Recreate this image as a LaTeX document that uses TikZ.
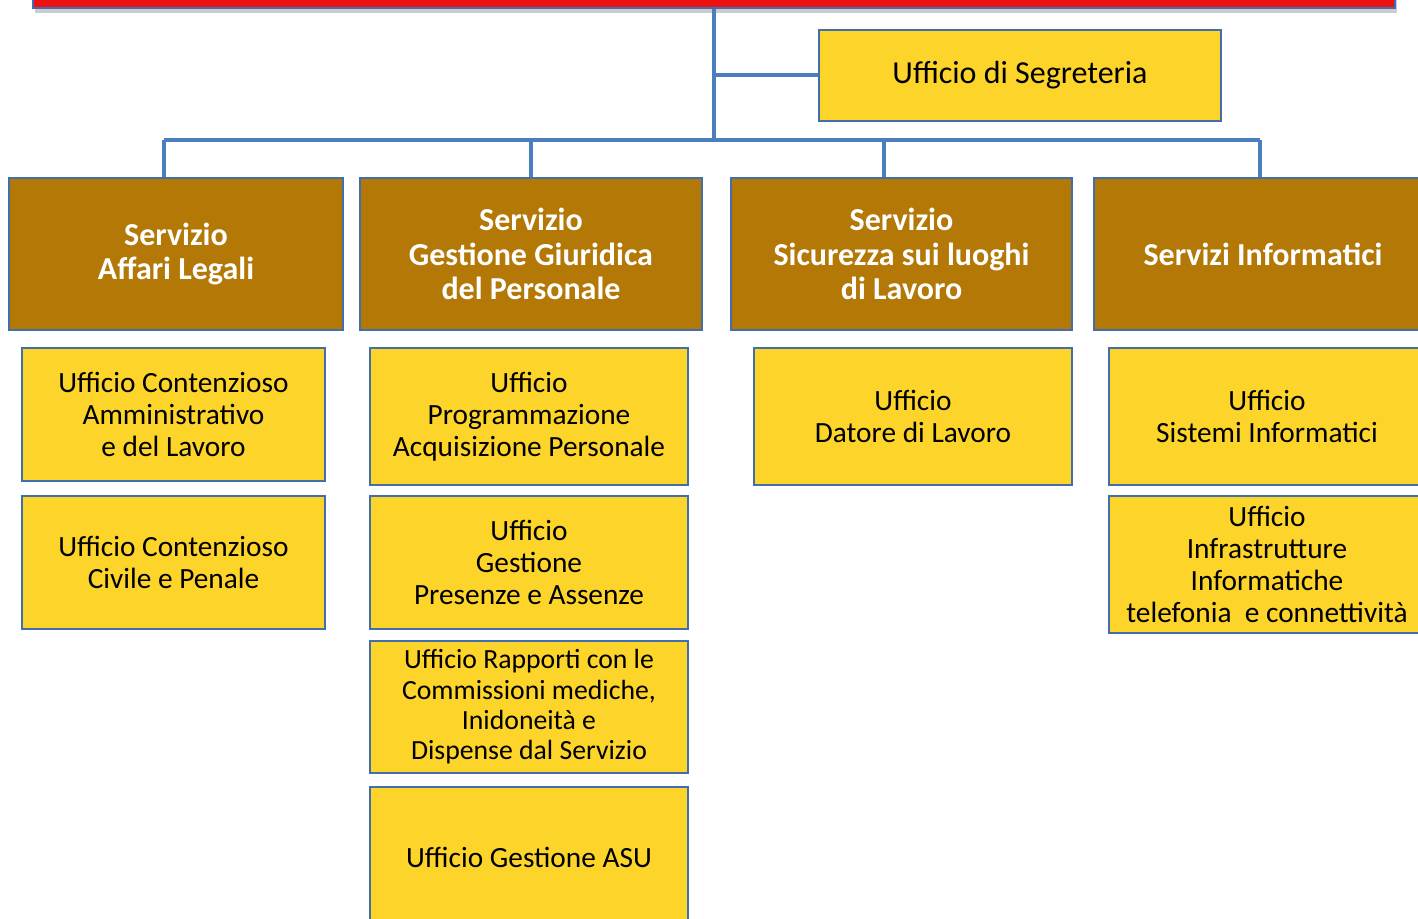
\documentclass[tikz,border=0pt]{standalone}
\usepackage{fontspec}
\setmainfont{Carlito}
\usetikzlibrary{shadows}
\definecolor{barred}{HTML}{EE1111}
\definecolor{boxblue}{HTML}{416FAE}
\definecolor{linkblue}{HTML}{4A7EBD}
\definecolor{servbrown}{HTML}{B37806}
\definecolor{uffyellow}{HTML}{FDD42A}

\begin{document}
\begin{tikzpicture}[x=0.75pt,y=-0.75pt,
		wh/.style 2 args={minimum width=#1*0.75pt,minimum height=#2*0.75pt},
		box/.style={draw=boxblue,line width=1.5pt,inner sep=0pt,align=center},
		servizio/.style={box,fill=servbrown,text=white,font=\bfseries\fontsize{24}{26}\selectfont},
		ufficio/.style={box,fill=uffyellow,text=black,font=\fontsize{22}{24}\selectfont},
		link/.style={draw=linkblue,line width=3pt}]

		\useasboundingbox (0,0) rectangle (1418,919);
		\clip (0,0) rectangle (1418,919);

		% top bar
		\node[box,fill=barred,wh={1362}{48},
			drop shadow={shadow xshift=1.5pt,shadow yshift=-4pt,fill=black!40}] (top) at (714,-16) {};

		\node[ufficio,wh={402}{91},font=\fontsize{24}{24}\selectfont] (seg) at (1020,75.5) {Ufficio di Segreteria};

		% servizi
		\node[servizio,wh={334}{152}] (legali) at (176,254) {Servizio\\Affari Legali};
		\node[servizio,wh={342}{152}] (giuridica) at (531,254) {Servizio\\Gestione Giuridica\\del Personale};
		\node[servizio,wh={341}{152}] (sicurezza) at (901.5,254) {Servizio\\Sicurezza sui luoghi\\di Lavoro};
		\node[servizio,wh={338}{152}] (info) at (1263,254) {Servizi Informatici};

		% uffici
		\node[ufficio,wh={303}{133}] (contamm) at (173.5,414.5) {Ufficio Contenzioso\\Amministrativo\\e del Lavoro};
		\node[ufficio,wh={303}{133}] (contciv) at (173.5,562.5) {Ufficio Contenzioso\\Civile e Penale};

		\node[ufficio,wh={318}{137}] (progr) at (529,416.5) {Ufficio\\Programmazione\\Acquisizione Personale};
		\node[ufficio,wh={318}{133}] (presenze) at (529,562.5) {Ufficio\\Gestione\\Presenze e Assenze};
		\node[ufficio,wh={318}{132},font=\fontsize{20.8}{22.8}\selectfont] (commiss) at (529,707) {Ufficio Rapporti con le\\Commissioni mediche,\\Inidoneità e\\Dispense dal Servizio};
		\node[ufficio,wh={318}{140}] (asu) at (529,857) {Ufficio Gestione ASU};

		\node[ufficio,wh={318}{137}] (datore) at (913,416.5) {Ufficio\\Datore di Lavoro};

		\node[ufficio,wh={316}{137}] (sistemi) at (1267,416.5) {Ufficio\\Sistemi Informatici};
		\node[ufficio,wh={316}{137}] (infra) at (1267,564.5) {Ufficio\\Infrastrutture\\Informatiche\\telefonia\ \ e connettività};

		% connectors
		\coordinate (bus) at (714,140);
		\coordinate (d1) at (164,140);
		\coordinate (d2) at (531,140);
		\coordinate (d3) at (884,140);
		\coordinate (d4) at (1260,140);

		\draw[link] (top.south) -- (bus);
		\draw[link] (seg.west) -- (seg.west -| top.south);
		\draw[link] (d1) -- (d4);
		\draw[link] (d1) -- (d1 |- legali.north);
		\draw[link] (d2) -- (d2 |- giuridica.north);
		\draw[link] (d3) -- (d3 |- sicurezza.north);
		\draw[link] (d4) -- (d4 |- info.north);

\end{tikzpicture}
\end{document}
